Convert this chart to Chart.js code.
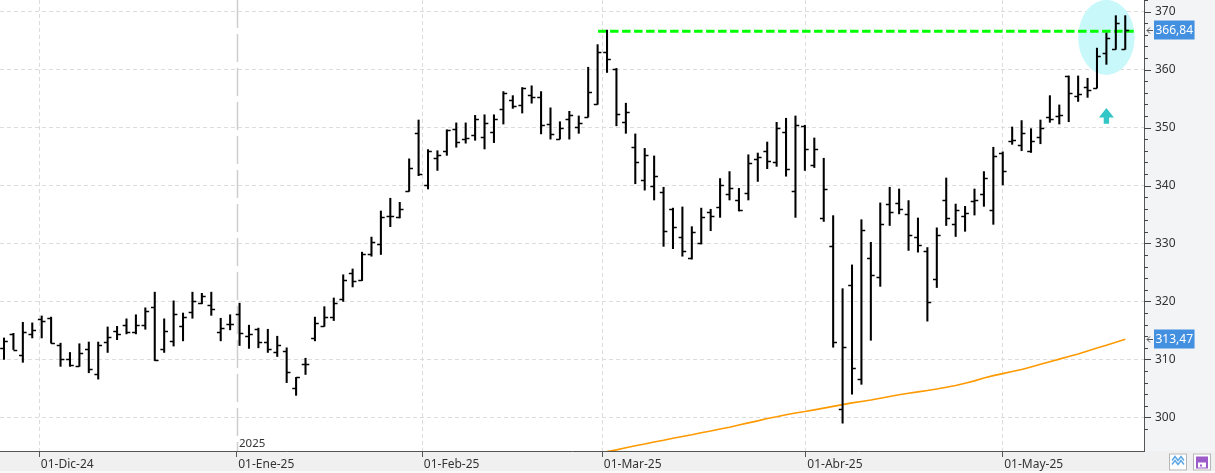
<!DOCTYPE html>
<html>
<head>
<meta charset="utf-8">
<script src="https://cdn.jsdelivr.net/npm/chart.js@4.4.1/dist/chart.umd.min.js"></script>
<style>
  html, body { margin: 0; padding: 0; background: #fff; }
</style>
</head>
<body>
<canvas id="chart" width="1215" height="473"></canvas>
<script>
// daily bars, 25-Nov-24 .. 20-May-25 (trading days only)
const opens = [
  312.0, 314.3, 310.8, 314.4, 317.0, 317.1, 312.5, 310.1, 308.9, 311.8,
  307.5, 313.0, 314.9, 316.0, 314.8, 316.0, 319.0, 311.8, 313.1, 315.8,
  318.2, 319.8, 319.4, 314.7, 316.1, 317.9, 314.1, 315.2, 313.0, 311.2,
  311.5, 305.1, 309.2, 313.7, 315.8, 317.3, 320.4, 324.9, 323.7, 328.2,
  329.9, 334.7, 334.5, 339.1, 349.0, 340.1, 344.7, 346.0, 349.8, 348.0,
  348.7, 348.3, 349.2, 353.2, 354.7, 353.9, 355.6, 355.2, 350.6, 348.0,
  351.4, 350.1, 351.9, 354.0, 363.1, 360.1, 350.9, 346.6, 340.9, 339.9,
  338.9, 335.9, 331.1, 327.5, 330.1, 335.4, 336.3, 338.6, 337.5, 338.7,
  344.6, 346.0, 344.0, 349.2, 339.0, 350.2, 343.6, 334.4, 329.6, 301.4,
  322.9, 306.6, 327.5, 324.2, 336.8, 337.0, 335.1, 331.1, 328.7, 323.9,
  337.5, 333.3, 334.7, 337.4, 338.5, 335.8, 345.6, 347.6, 347.0, 345.9,
  348.3, 351.8, 352.0, 358.9, 355.5, 357.0, 356.9, 362.9, 363.5, 363.5
];
const highs = [
  313.7, 314.5, 316.4, 316.3, 317.5, 317.3, 312.8, 311.2, 312.7, 313.0,
  313.0, 315.6, 315.7, 317.0, 317.7, 318.9, 321.6, 317.0, 320.1, 318.0,
  321.6, 321.4, 321.6, 317.1, 317.7, 319.7, 315.9, 315.4, 315.2, 314.0,
  312.0, 306.9, 310.2, 317.3, 319.1, 320.6, 324.6, 325.6, 328.5, 331.1,
  335.6, 337.8, 337.1, 344.6, 351.3, 346.2, 346.0, 349.6, 350.8, 350.8,
  352.1, 352.2, 352.2, 356.2, 355.5, 356.9, 357.2, 356.2, 353.4, 351.0,
  352.8, 352.0, 360.4, 364.3, 366.8, 360.2, 354.2, 348.9, 346.4, 345.1,
  339.7, 336.1, 336.3, 332.9, 336.1, 335.9, 341.2, 342.4, 339.5, 345.3,
  345.6, 347.5, 350.9, 351.6, 352.0, 350.4, 348.2, 344.7, 334.8, 322.2,
  326.3, 334.1, 330.2, 337.0, 339.7, 339.4, 337.4, 334.4, 329.3, 332.7,
  341.3, 336.8, 336.4, 339.4, 342.4, 346.6, 345.8, 350.1, 351.2, 349.8,
  351.3, 355.5, 353.9, 358.9, 358.9, 358.5, 363.7, 366.3, 369.3, 369.3
];
const lows = [
  310.0, 311.7, 309.5, 313.7, 313.7, 312.8, 308.8, 308.8, 308.8, 307.7,
  306.6, 311.2, 313.4, 314.4, 314.4, 315.2, 309.8, 311.2, 312.3, 313.2,
  317.1, 319.6, 317.6, 313.2, 315.1, 312.4, 311.9, 312.0, 311.2, 310.5,
  306.0, 303.8, 307.4, 313.2, 315.7, 316.7, 320.0, 322.5, 323.6, 327.8,
  328.1, 332.9, 334.4, 339.0, 341.7, 339.4, 342.6, 345.2, 346.6, 347.3,
  347.8, 346.3, 347.4, 350.6, 353.3, 352.5, 354.2, 348.9, 348.0, 348.0,
  348.0, 349.0, 351.8, 354.0, 359.5, 350.3, 349.0, 340.3, 339.2, 337.5,
  329.5, 329.1, 327.8, 327.3, 329.9, 332.2, 334.5, 337.5, 335.6, 337.5,
  340.7, 342.9, 343.3, 341.6, 334.5, 342.6, 343.1, 333.8, 312.1, 299.0,
  304.0, 305.7, 313.3, 322.6, 333.1, 335.1, 328.8, 328.5, 316.6, 322.4,
  333.1, 331.2, 332.1, 334.9, 336.4, 333.3, 340.1, 347.1, 346.0, 345.7,
  347.2, 350.9, 350.6, 351.0, 354.5, 355.2, 356.8, 360.9, 363.5, 363.5
];
const closes = [
  313.2, 311.7, 314.7, 315.1, 316.6, 312.9, 310.0, 309.0, 311.1, 308.3,
  312.4, 313.9, 314.3, 314.8, 316.0, 318.3, 309.9, 314.9, 317.9, 317.3,
  320.1, 321.0, 318.7, 315.4, 316.1, 314.5, 314.4, 313.0, 311.8, 312.5,
  307.9, 306.9, 309.2, 316.3, 317.3, 319.7, 323.7, 323.5, 328.2, 330.2,
  334.6, 334.8, 335.9, 343.1, 341.9, 346.0, 345.2, 349.5, 347.5, 348.2,
  351.4, 350.7, 351.5, 355.9, 353.8, 356.8, 355.2, 350.5, 348.8, 350.0,
  352.2, 350.8, 356.1, 363.0, 361.8, 352.3, 352.7, 344.0, 345.2, 341.7,
  332.1, 332.8, 328.7, 331.9, 334.6, 334.7, 340.1, 339.5, 335.7, 343.8,
  344.9, 344.2, 349.9, 342.8, 350.4, 346.3, 346.3, 339.4, 313.0, 312.2,
  308.5, 332.3, 324.6, 333.3, 335.4, 335.9, 331.4, 329.7, 319.9, 331.4,
  334.4, 335.8, 335.2, 337.5, 341.3, 345.1, 342.5, 347.8, 349.0, 347.6,
  349.9, 351.5, 352.2, 355.9, 355.7, 356.5, 362.3, 365.4, 368.0, 366.84
];

const maFirstBar = 63;
const maValues = [
  293.8, 294.1, 294.4, 294.75, 295.1, 295.4, 295.75, 296.05, 296.4, 296.7,
  297.0, 297.35, 297.65, 298.0, 298.3, 298.7, 299.05, 299.4, 299.8, 300.1,
  300.45, 300.75, 301.0, 301.3, 301.6, 301.9, 302.2, 302.5, 302.75, 303.0,
  303.3, 303.6, 303.9, 304.15, 304.4, 304.65, 304.9, 305.2, 305.5, 305.9,
  306.3, 306.8, 307.2, 307.55, 307.9, 308.25, 308.7, 309.15, 309.6, 310.05,
  310.5, 310.95, 311.45, 311.95, 312.45, 312.95, 313.47
];

// resistance line (green dashed)
const resistanceLevel = 366.62;
const resistanceFrom = 63.05;
const resistanceTo = 119.9;

// month ticks on the bar index axis
const monthLabels = ['01-Dic-24', '01-Ene-25', '01-Feb-25', '01-Mar-25', '01-Abr-25', '01-May-25'];
const monthTicks = [3.75, 24.7, 44.4, 63.5, 85.1, 106.0];
const yearLabel = '2025';
const yearTickIndex = 1;

const FONT = "'Noto Sans', sans-serif";
Chart.defaults.font.family = FONT;
Chart.defaults.font.size = 12;
Chart.defaults.color = '#333';

const rangeData = highs.map((h, i) => ({ x: i, y: [lows[i], h] }));
const maData = maValues.map((v, i) => ({ x: maFirstBar + i, y: v }));

// background panels, annotations, OHLC ticks, price tags
const decor = {
  id: 'decor',
  beforeDraw(chart) {
    const { ctx, chartArea: a, width, height } = chart;
    ctx.save();
    ctx.fillStyle = '#ffffff';
    ctx.fillRect(0, 0, width, height);
    ctx.fillStyle = '#f3f4f6';
    ctx.fillRect(a.right, 0, width - a.right, a.bottom);
    ctx.fillStyle = '#f0f0f0';
    ctx.fillRect(0, a.bottom, width, height - a.bottom);
    ctx.fillStyle = '#fafafa';
    ctx.fillRect(0, height - 2, width, 2);
    ctx.restore();
  },
  beforeDatasetsDraw(chart) {
    const { ctx, chartArea: a, scales: { x, y } } = chart;
    ctx.save();
    ctx.beginPath();
    ctx.rect(a.left, a.top, a.right - a.left, a.bottom - a.top);
    ctx.clip();

    // year separator
    const yx = Math.round(x.getPixelForValue(monthTicks[yearTickIndex])) + 0.5;
    ctx.strokeStyle = '#cdcdcd';
    ctx.lineWidth = 1.5;
    ctx.setLineDash([28, 6]);
    ctx.beginPath();
    ctx.moveTo(yx, a.top);
    ctx.lineTo(yx, a.bottom);
    ctx.stroke();
    ctx.setLineDash([]);
    ctx.fillStyle = '#333';
    ctx.font = '11.5px ' + FONT;
    ctx.textAlign = 'left';
    ctx.textBaseline = 'bottom';
    ctx.fillText(yearLabel, yx + 1.5, a.bottom - 2);

    // highlight ellipse round the last bars
    const cx = x.getPixelForValue(117);
    const cy = y.getPixelForValue(365.55);
    const rx = x.getPixelForValue(120) - cx;
    const ry = y.getPixelForValue(359.08) - cy;
    ctx.fillStyle = '#c9f8fa';
    ctx.beginPath();
    ctx.ellipse(cx, cy, rx, ry, 0, 0, Math.PI * 2);
    ctx.fill();

    // up arrow
    const ax = x.getPixelForValue(117);
    const tip = y.getPixelForValue(353.35);
    const base = y.getPixelForValue(351.75);
    const foot = y.getPixelForValue(350.64);
    ctx.fillStyle = '#33c6c6';
    ctx.beginPath();
    ctx.moveTo(ax, tip);
    ctx.lineTo(ax + 7.5, base);
    ctx.lineTo(ax + 2.7, base);
    ctx.lineTo(ax + 2.7, foot);
    ctx.lineTo(ax - 2.7, foot);
    ctx.lineTo(ax - 2.7, base);
    ctx.lineTo(ax - 7.5, base);
    ctx.closePath();
    ctx.fill();
    ctx.restore();
  },
  afterDatasetsDraw(chart) {
    const { ctx, chartArea: a, scales: { x, y } } = chart;
    ctx.save();
    ctx.beginPath();
    ctx.rect(a.left, a.top, a.right - a.left, a.bottom - a.top);
    ctx.clip();
    ctx.strokeStyle = '#000';
    ctx.lineWidth = 1.3;
    opens.forEach((o, i) => {
      const px = x.getPixelForValue(i);
      const yo = Math.round(y.getPixelForValue(o)) + 0.5;
      const yc = Math.round(y.getPixelForValue(closes[i])) + 0.5;
      ctx.beginPath();
      ctx.moveTo(px - 3.8, yo);
      ctx.lineTo(px, yo);
      ctx.moveTo(px, yc);
      ctx.lineTo(px + 3.8, yc);
      ctx.stroke();
    });
    ctx.restore();
  },
  afterDraw(chart) {
    const { ctx, chartArea: a, scales: { y }, width } = chart;
    ctx.save();
    // y axis tick marks: long at labels, short every 2
    ctx.strokeStyle = '#444';
    ctx.lineWidth = 1;
    y.ticks.forEach(t => {
      const v = t.value;
      if (Math.abs(v - Math.round(v)) > 1e-6 || Math.round(v) % 2 !== 0) return;
      const py = Math.round(y.getPixelForValue(v)) + 0.5;
      const len = Math.round(v) % 10 === 0 ? 7 : 4;
      ctx.beginPath();
      ctx.moveTo(a.right, py);
      ctx.lineTo(a.right + len, py);
      ctx.stroke();
    });

    // price tags
    const tag = value => {
      const py = Math.round(y.getPixelForValue(value));
      const txt = value.toFixed(2).replace('.', ',');
      ctx.font = '12px ' + FONT;
      const w = ctx.measureText(txt).width + 3;
      const left = a.right + 10;
      ctx.fillStyle = '#4390e0';
      ctx.fillRect(left, py - 9.5, w, 19);
      ctx.fillStyle = '#ffffff';
      ctx.textAlign = 'left';
      ctx.textBaseline = 'middle';
      ctx.fillText(txt, left + 1.5, py + 0.5);
      ctx.strokeStyle = '#555';
      ctx.lineWidth = 1;
      ctx.beginPath();
      ctx.moveTo(a.right + 9, py + 0.5);
      ctx.lineTo(a.right + 3, py + 0.5);
      ctx.moveTo(a.right + 6, py - 2.5);
      ctx.lineTo(a.right + 3, py + 0.5);
      ctx.lineTo(a.right + 6, py + 3.5);
      ctx.stroke();
    };
    tag(closes[closes.length - 1]);
    tag(maValues[maValues.length - 1]);

    // small toolbar buttons bottom right
    const by = a.bottom + 2.5;
    ctx.lineWidth = 1;
    ctx.strokeStyle = '#b5b5b5';
    ctx.fillStyle = '#ffffff';
    ctx.fillRect(width - 46, by, 18, 17);
    ctx.strokeRect(width - 45.5, by + 0.5, 17, 16);
    ctx.fillRect(width - 22, by, 18, 17);
    ctx.strokeRect(width - 21.5, by + 0.5, 17, 16);
    ctx.strokeStyle = '#5aa6e6';
    ctx.lineWidth = 1.4;
    [5, 9].forEach(dy => {
      ctx.beginPath();
      ctx.moveTo(width - 43, by + dy + 2);
      ctx.lineTo(width - 40, by + dy - 2);
      ctx.lineTo(width - 37, by + dy + 2);
      ctx.lineTo(width - 34, by + dy - 2);
      ctx.lineTo(width - 31, by + dy + 2);
      ctx.stroke();
    });
    ctx.fillStyle = '#9b5bc9';
    ctx.fillRect(width - 19, by + 3, 12, 12);
    ctx.fillStyle = '#ffffff';
    ctx.fillRect(width - 17, by + 9, 8, 5);
    ctx.fillStyle = '#9b5bc9';
    ctx.fillRect(width - 15, by + 11, 2, 2);
    ctx.restore();
  }
};

new Chart(document.getElementById('chart'), {
  type: 'bar',
  data: {
    datasets: [
      {
        type: 'bar',
        label: 'Rango',
        data: rangeData,
        backgroundColor: '#000000',
        borderWidth: 0,
        barThickness: 1.4,
        order: 1
      },
      {
        type: 'line',
        label: 'Media',
        data: maData,
        borderColor: '#ff9900',
        borderWidth: 1.6,
        pointRadius: 0,
        tension: 0,
        order: 3
      },
      {
        type: 'line',
        label: 'Resistencia',
        data: [
          { x: resistanceFrom, y: resistanceLevel },
          { x: resistanceTo, y: resistanceLevel }
        ],
        borderColor: '#00ff00',
        borderWidth: 3,
        borderDash: [8.5, 3.5],
        pointRadius: 0,
        order: 2
      }
    ]
  },
  options: {
    responsive: false,
    animation: false,
    devicePixelRatio: 1,
    layout: { padding: 0 },
    plugins: {
      legend: { display: false },
      tooltip: { enabled: false }
    },
    scales: {
      x: {
        type: 'linear',
        min: -0.4245,
        max: 120.99,
        offset: false,
        afterBuildTicks: scale => {
          scale.ticks = monthTicks.map(v => ({ value: v }));
        },
        afterFit: scale => {
          scale.height = 22;
          scale.paddingLeft = 0;
          scale.paddingRight = 0;
        },
        grid: {
          offset: false,
          color: c => (c.index === yearTickIndex ? 'transparent' : '#dcdcdc'),
          lineWidth: 1,
          tickLength: 6,
          tickColor: '#555'
        },
        border: { color: '#555', width: 1, dash: [4, 3] },
        ticks: {
          autoSkip: false,
          maxRotation: 0,
          align: 'start',
          labelOffset: 1.5,
          padding: 0,
          color: '#333',
          font: { size: 12 },
          callback: (v, i) => monthLabels[i]
        }
      },
      y: {
        type: 'linear',
        position: 'right',
        min: 294.2,
        max: 372.0,
        afterFit: scale => {
          scale.width = 71;
          scale.paddingTop = 0;
          scale.paddingBottom = 0;
        },
        grid: {
          color: c => (Math.abs(c.tick.value % 10) < 1e-6 ? '#dcdcdc' : 'transparent'),
          lineWidth: 1,
          tickLength: 7,
          tickColor: 'transparent'
        },
        border: { color: '#555', width: 1, dash: [4, 3] },
        ticks: {
          stepSize: 2,
          autoSkip: false,
          padding: 4,
          color: '#333',
          font: { size: 12 },
          callback: v => (Math.abs(v % 10) < 1e-6 ? String(v) : '')
        }
      }
    }
  },
  plugins: [decor]
});
</script>
</body>
</html>
